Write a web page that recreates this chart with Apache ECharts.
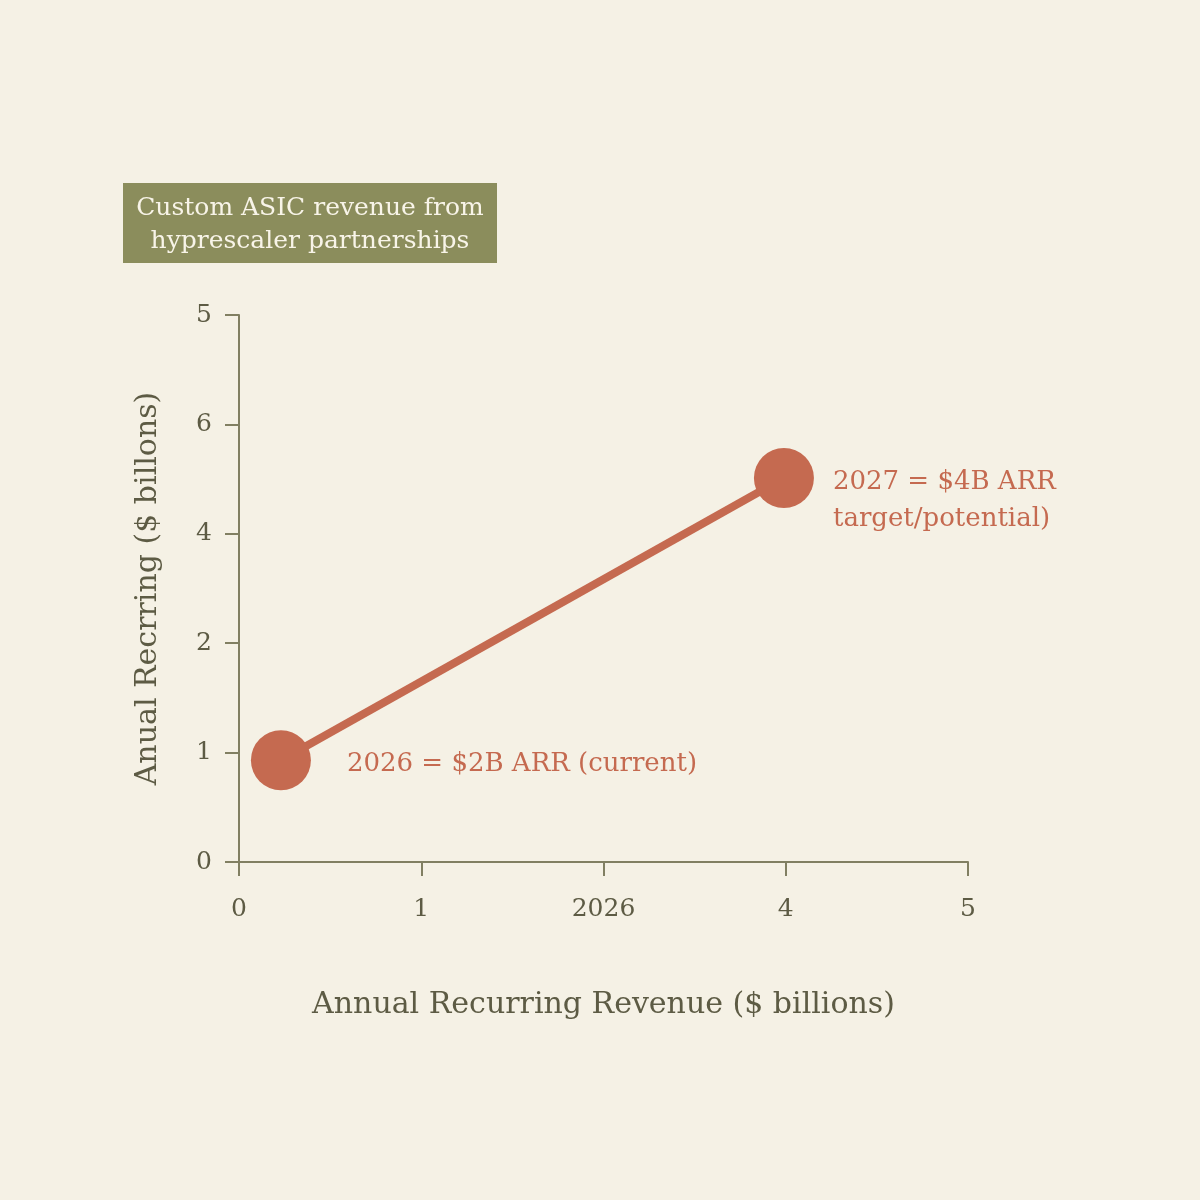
<!DOCTYPE html>
<html><head><meta charset="utf-8">
<script src="https://cdn.jsdelivr.net/npm/echarts@6/dist/echarts.min.js"></script>
<style>html,body{margin:0;padding:0;background:#f5f1e5;}#c{width:1200px;height:1200px;}</style>
</head><body><div id="c"></div>
<script>
const xTickLabels = ['0', '1', '2026', '4', '5'];
const yTickLabels = ['0', '1', '2', '4', '6', '5'];
const pointsX = [0.23, 2.99];
const pointsY = [0.93, 3.51];
const pointLabels = ['2026 = $2B ARR (current)', '2027 = $4B ARR\ntarget/potential)'];
const titleText = 'Custom ASIC revenue from\nhyprescaler partnerships';
const xName = 'Annual Recurring Revenue ($ billions)';
const yName = 'Anual Recrring ($ billons)';

const FONT = 'DejaVu Serif';
const axisCol = '#817f62';
const textCol = '#5d5b44';
const accent = '#c56a50';

const chart = echarts.init(document.getElementById('c'));
chart.setOption({
  backgroundColor: '#f5f1e5',
  animation: false,
  grid: {left: 239, right: 232, top: 315, bottom: 338, containLabel: false},
  graphic: [{
    type: 'group', left: 123, top: 183,
    children: [
      {type: 'rect', shape: {x: 0, y: 0, width: 374, height: 80}, style: {fill: '#8b8d5c'}},
      {type: 'text', x: 187, y: 42, style: {text: titleText, fill: '#f8f4e8', font: '25px "' + FONT + '"', align: 'center', verticalAlign: 'middle', lineHeight: 33}}
    ]
  }],
  xAxis: {
    type: 'value', min: 0, max: 4, interval: 1,
    name: xName, nameLocation: 'middle', nameGap: 128,
    nameTextStyle: {fontFamily: FONT, fontSize: 30, color: textCol},
    axisLine: {show: true, lineStyle: {color: axisCol, width: 2}},
    axisTick: {show: true, length: 14, lineStyle: {color: axisCol, width: 2}},
    splitLine: {show: false},
    axisLabel: {margin: 35, fontFamily: FONT, fontSize: 25, color: textCol,
      formatter: (v) => xTickLabels[Math.round(v)]}
  },
  yAxis: {
    type: 'value', min: 0, max: 5, interval: 1,
    name: yName, nameLocation: 'middle', nameGap: 76, nameRotate: 90,
    nameTextStyle: {fontFamily: FONT, fontSize: 30, color: textCol},
    axisLine: {show: true, lineStyle: {color: axisCol, width: 2}},
    axisTick: {show: true, length: 14, lineStyle: {color: axisCol, width: 2}},
    splitLine: {show: false},
    axisLabel: {margin: 27, fontFamily: FONT, fontSize: 25, color: textCol,
      formatter: (v) => yTickLabels[Math.round(v)]}
  },
  series: [{
    type: 'line',
    data: pointsX.map((x, i) => ({
      value: [x, pointsY[i]],
      label: {
        show: true, position: 'right', distance: 36,
        formatter: pointLabels[i],
        offset: i === 1 ? [-17, 23] : [0, 4],
        fontFamily: FONT, fontSize: 26, color: accent, lineHeight: 37, align: 'left'
      }
    })),
    symbol: 'circle', symbolSize: 60,
    lineStyle: {color: accent, width: 8},
    itemStyle: {color: accent}
  }]
});
</script></body></html>
